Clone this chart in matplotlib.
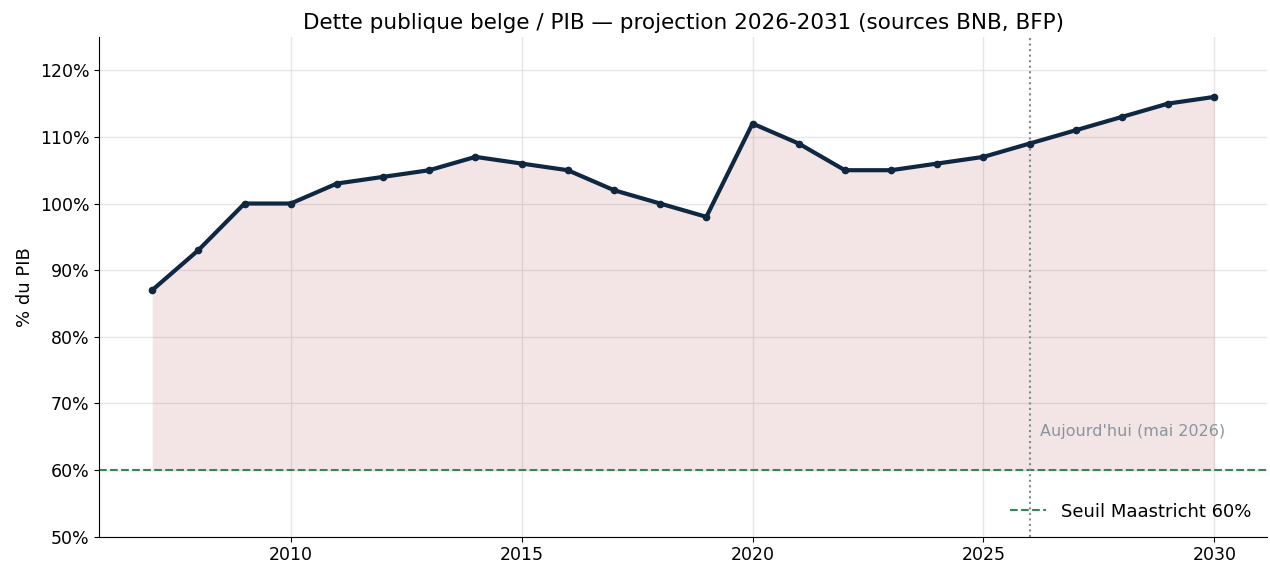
import matplotlib
matplotlib.use("Agg")
import matplotlib.pyplot as plt
from matplotlib.ticker import FuncFormatter

years = list(range(2007, 2031))
debt = [87, 93, 100, 100, 103, 104, 105, 107, 106, 105, 102, 100, 98,
        112, 109, 105, 105, 106, 107, 109, 111, 113, 115, 116]
threshold = 60
today = 2026

fig, ax = plt.subplots(figsize=(12.7, 5.68), dpi=100)
ax.fill_between(years, threshold, debt, color="#a03030", alpha=0.12, lw=0)
ax.plot(years, debt, color="#0f2740", lw=3, marker="o", ms=4.5, zorder=3)
ax.axhline(threshold, color="#2e8b57", ls="--", lw=1.5, label="Seuil Maastricht 60%")
ax.axvline(today, color="#808890", ls=":", lw=1.5)
ax.text(today + 0.22, 64.6, "Aujourd'hui (mai 2026)", color="#8a94a0", fontsize=11.5, va="bottom")

ax.set_ylim(50, 125)
ax.set_yticks(range(50, 121, 10))
ax.yaxis.set_major_formatter(FuncFormatter(lambda v, p: f"{v:.0f}%"))
ax.set_ylabel("% du PIB", fontsize=13)
ax.set_title("Dette publique belge / PIB — projection 2026-2031 (sources BNB, BFP)", fontsize=15.5)
ax.grid(True, color="#e0e0e0", lw=1, alpha=0.8)
ax.set_axisbelow(True)
ax.tick_params(labelsize=12.5)
for s in ["top", "right"]:
    ax.spines[s].set_visible(False)
ax.legend(loc="lower right", frameon=False, fontsize=13)
fig.subplots_adjust(left=0.078, right=0.998, top=0.935, bottom=0.055)
fig.savefig("out.png", dpi=100)
